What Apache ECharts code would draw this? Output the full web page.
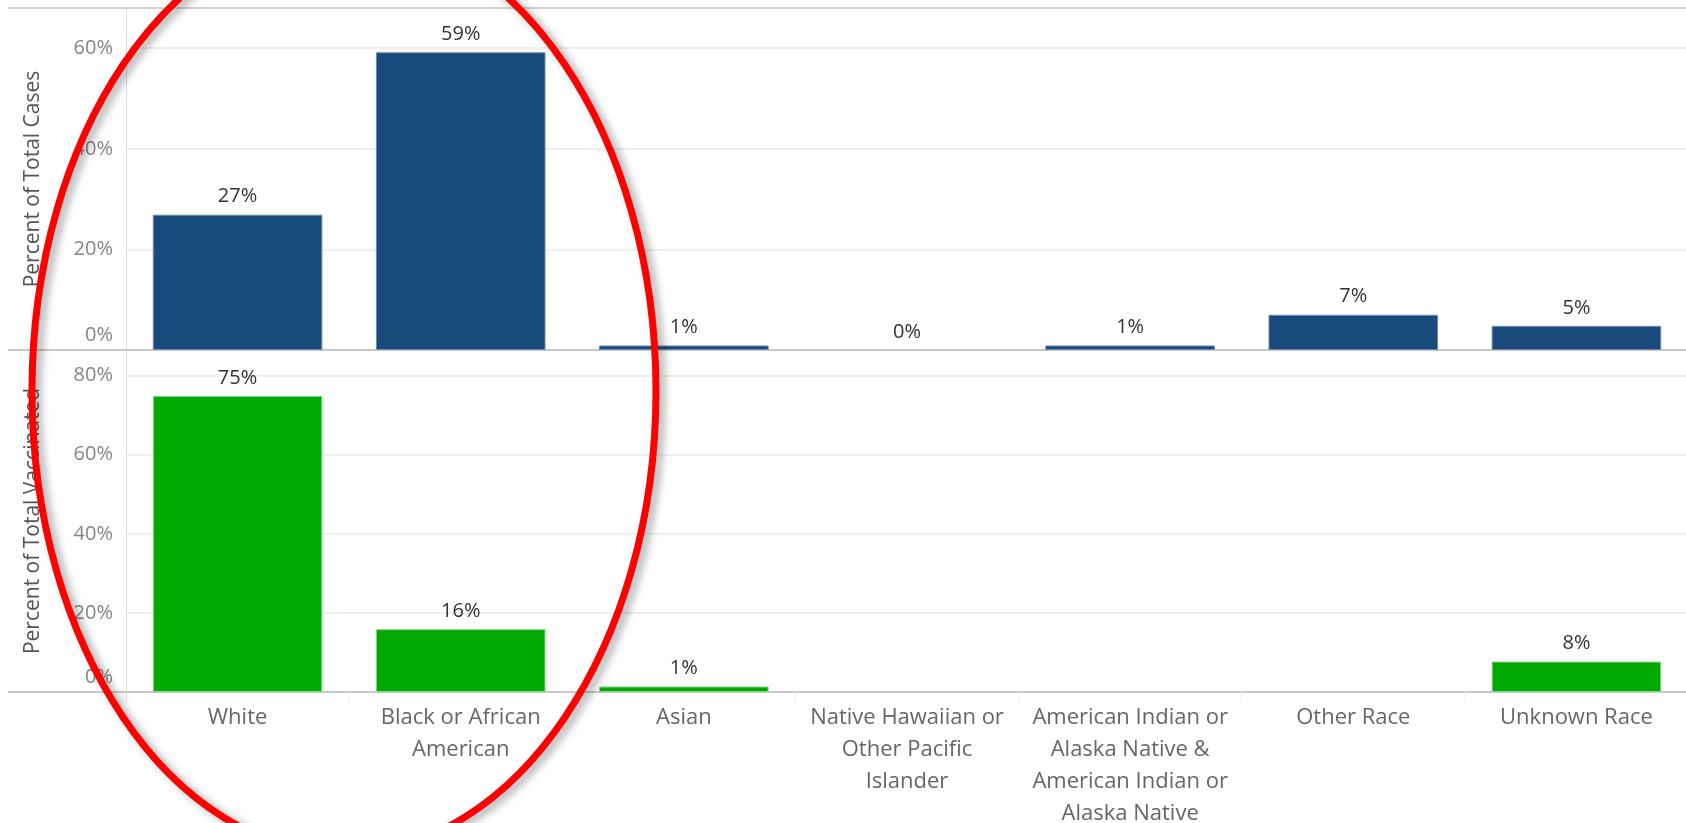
<!DOCTYPE html>
<html>
<head>
<meta charset="utf-8">
<script src="https://cdn.jsdelivr.net/npm/echarts@6/dist/echarts.min.js"></script>
<style>
html,body{margin:0;padding:0;background:#fff;}
#chart{width:1686px;height:823px;}
</style>
</head>
<body>
<div id="chart"></div>
<script>
var categories = ['White', 'Black or African\nAmerican', 'Asian', 'Native Hawaiian or\nOther Pacific\nIslander', 'American Indian or\nAlaska Native &\nAmerican Indian or\nAlaska Native', 'Other Race', 'Unknown Race'];
var casesPct = [26.9, 59.2, 0.9, 0, 0.9, 7.0, 4.8];
var vaccinatedPct = [74.9, 15.9, 1.4, null, null, null, 7.7];
var casesTicks = [0, 20, 40, 60];
var vaccinatedTicks = [0, 20, 40, 60, 80];

var FONT = '"Open Sans", "Noto Sans", sans-serif';
var chart = echarts.init(document.getElementById('chart'));

function tickFmt(ticks) {
  return function (v) {
    if (ticks.indexOf(v) < 0) return '';
    return v === 0 ? '{z|0%}' : v + '%';
  };
}
var tickRich = {z: {color: '#858585', fontFamily: FONT, fontSize: 20, padding: [0, 0, 30, 0]}};
var valueLabel = {
  show: true, position: 'top', distance: 8,
  color: '#333', fontFamily: FONT, fontSize: 20,
  formatter: function (p) { return p.value == null ? '' : Math.round(p.value) + '%'; }
};
function toItems(arr) {
  return arr.map(function (v) { return v === 0 ? {value: v, itemStyle: {borderWidth: 0}} : v; });
}

var option = {
  animation: false,
  grid: [
    {left: 126, top: 8, width: 1562, height: 342, containLabel: false, outerBoundsMode: 'none'},
    {left: 126, top: 350, width: 1562, height: 342, containLabel: false, outerBoundsMode: 'none'}
  ],
  xAxis: [
    {type: 'category', gridIndex: 0, data: categories,
     axisLine: {show: true, lineStyle: {color: '#c8c8c8', width: 2}},
     axisTick: {show: false}, axisLabel: {show: false}},
    {type: 'category', gridIndex: 1, data: categories,
     axisLine: {show: true, lineStyle: {color: '#c8c8c8', width: 2}},
     axisTick: {show: true, length: 10, lineStyle: {color: '#e8e8e8', width: 1}},
     axisLabel: {color: '#666', fontFamily: FONT, fontSize: 22, lineHeight: 32, margin: 10, interval: 0}}
  ],
  yAxis: [
    {type: 'value', gridIndex: 0, min: 0, max: 68, interval: 20,
     name: 'Percent of Total Cases', nameLocation: 'middle', nameGap: 82,
     nameTextStyle: {color: '#555', fontFamily: FONT, fontSize: 21},
     axisLine: {show: true, lineStyle: {color: '#dedede', width: 1}},
     axisTick: {show: false},
     axisLabel: {color: '#858585', fontFamily: FONT, fontSize: 20, margin: 13, formatter: tickFmt(casesTicks), rich: tickRich},
     splitLine: {lineStyle: {color: '#efefef', width: 2}}},
    {type: 'value', gridIndex: 1, min: 0, max: 86.5, interval: 20,
     name: 'Percent of Total Vaccinated', nameLocation: 'middle', nameGap: 82,
     nameTextStyle: {color: '#555', fontFamily: FONT, fontSize: 21},
     axisLine: {show: true, lineStyle: {color: '#dedede', width: 1}},
     axisTick: {show: false},
     axisLabel: {color: '#858585', fontFamily: FONT, fontSize: 20, margin: 13, formatter: tickFmt(vaccinatedTicks), rich: tickRich},
     splitLine: {lineStyle: {color: '#efefef', width: 2}}}
  ],
  series: [
    {type: 'bar', xAxisIndex: 0, yAxisIndex: 0, data: toItems(casesPct), barWidth: '76%',
     itemStyle: {color: '#194a7b', borderColor: '#6a8bb0', borderWidth: 1},
     label: valueLabel},
    {type: 'bar', xAxisIndex: 1, yAxisIndex: 1, data: toItems(vaccinatedPct), barWidth: '76%',
     itemStyle: {color: '#02a902', borderColor: '#8ad88a', borderWidth: 1},
     label: valueLabel}
  ],
  graphic: [
    {type: 'line', shape: {x1: 8, y1: 8, x2: 1686, y2: 8}, style: {stroke: '#d4d4d4', lineWidth: 2}, z: 50},
    {type: 'line', shape: {x1: 8, y1: 350, x2: 126, y2: 350}, style: {stroke: '#c8c8c8', lineWidth: 2}, z: 50},
    {type: 'line', shape: {x1: 8, y1: 692, x2: 126, y2: 692}, style: {stroke: '#c8c8c8', lineWidth: 2}, z: 50},
    {type: 'line', shape: {x1: 126.5, y1: 692, x2: 126.5, y2: 702}, style: {stroke: '#e0e0e0', lineWidth: 1}, z: 50},
    {type: 'ellipse', shape: {cx: 344, cy: 391, rx: 312, ry: 462},
     style: {fill: 'none', stroke: '#ff0000', lineWidth: 7, shadowBlur: 8, shadowColor: 'rgba(0,0,0,0.35)', shadowOffsetX: 5, shadowOffsetY: 3},
     z: 100}
  ]
};
chart.setOption(option);
</script>
</body>
</html>
